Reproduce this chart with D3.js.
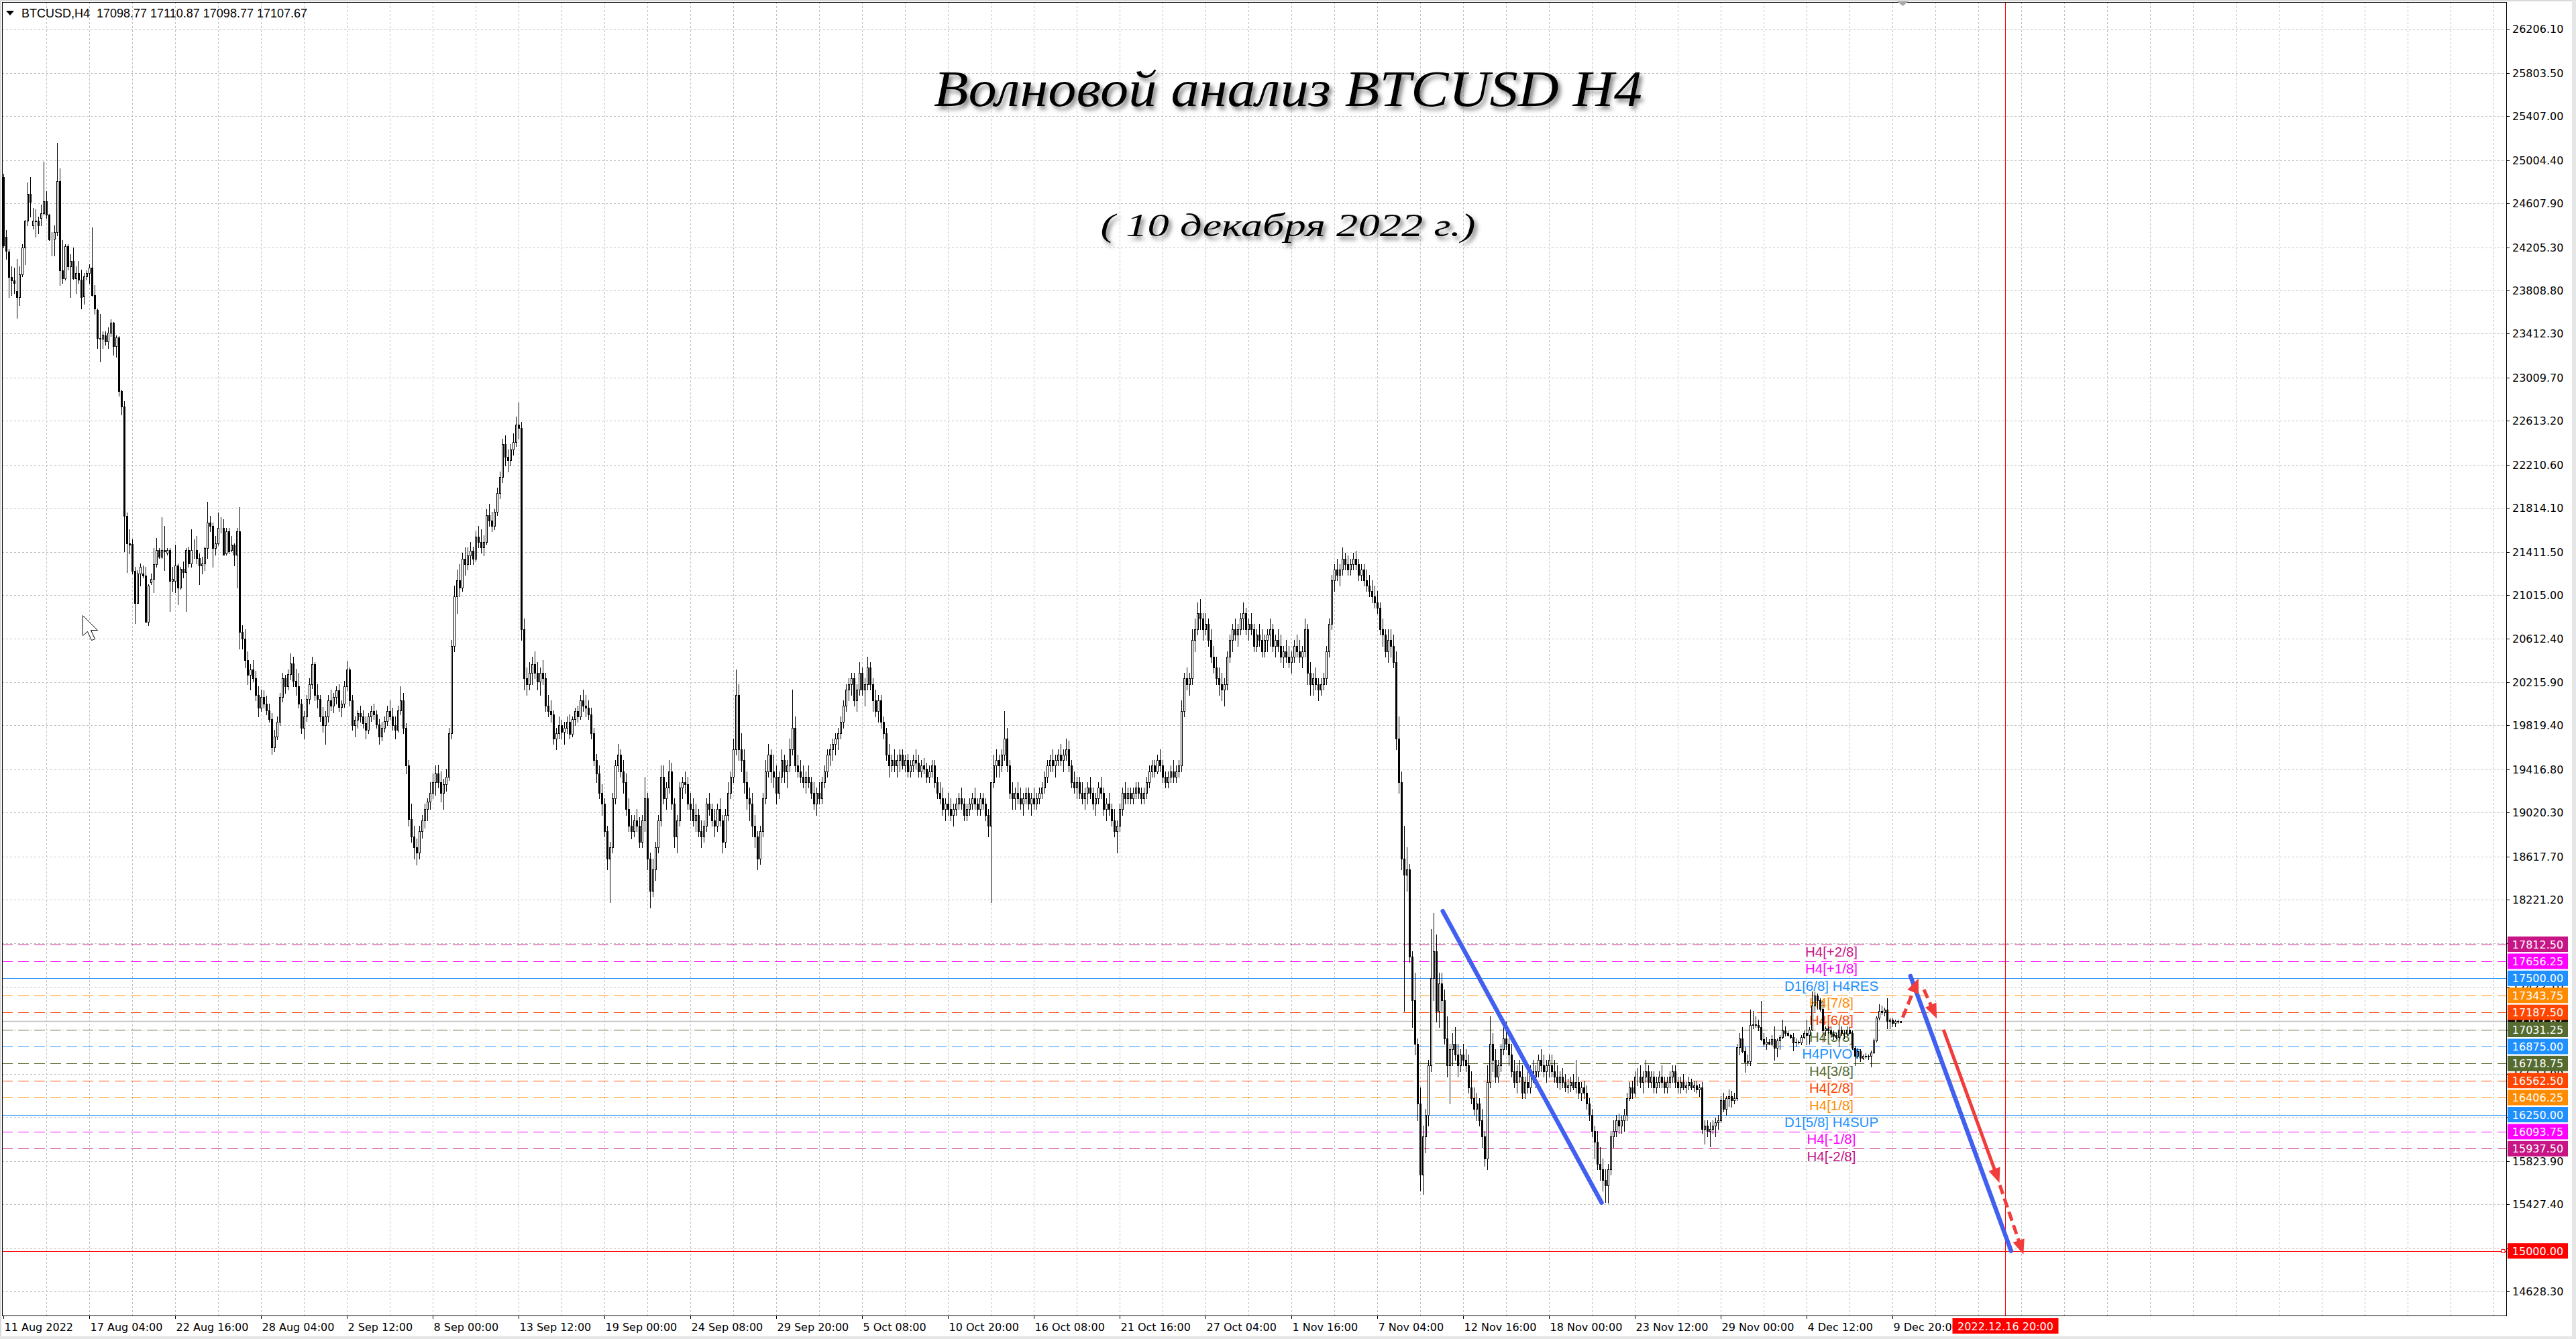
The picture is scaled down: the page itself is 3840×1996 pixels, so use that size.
<!DOCTYPE html>
<html><head><meta charset="utf-8">
<script src="https://cdn.jsdelivr.net/npm/d3@7"></script>
<style>html,body{margin:0;padding:0;background:#fff;overflow:hidden}</style>
</head><body>
<svg id="c" width="3840" height="1996" xmlns="http://www.w3.org/2000/svg"></svg>
<script>
// ---------------- DATA ----------------
const headerText = "BTCUSD,H4  17098.77 17110.87 17098.77 17107.67";
const titleText = "Волновой анализ BTCUSD H4";
const subtitleText = "( 10 декабря 2022 г.)";
const timeLabels = ["11 Aug 2022","17 Aug 04:00","22 Aug 16:00","28 Aug 04:00","2 Sep 12:00","8 Sep 00:00","13 Sep 12:00","19 Sep 00:00","24 Sep 08:00","29 Sep 20:00","5 Oct 08:00","10 Oct 20:00","16 Oct 08:00","21 Oct 16:00","27 Oct 04:00","1 Nov 16:00","7 Nov 04:00","12 Nov 16:00","18 Nov 00:00","23 Nov 12:00","29 Nov 00:00","4 Dec 12:00","9 Dec 20:00"];
const priceTicks = [26206.10,25803.50,25407.00,25004.40,24607.90,24205.30,23808.80,23412.30,23009.70,22613.20,22210.60,21814.10,21411.50,21015.00,20612.40,20215.90,19819.40,19416.80,19020.30,18617.70,18221.20,17824.70,17422.10,17025.60,16623.00,16226.50,15823.90,15427.40,15024.80,14628.30];
const opens = [
24848,24299,24164,23932,23901,23803,23750,23954,24205,24449,24697,24408,24446,24446,24471,24518,24628,24503,24283,24283,
24346,24810,23995,23922,24214,24032,24079,23922,23970,23907,23756,23938,23970,24020,23766,23631,23374,23367,23399,23342,
23421,23515,23295,23380,22888,22746,21743,21492,21480,21235,20943,21210,21210,21194,20771,21131,21163,21298,21429,21367,
21429,21404,21429,21147,21147,21288,21084,21257,21226,21429,21304,21429,21429,21351,21288,21304,21445,21680,21649,21445,
21492,21633,21633,21398,21602,21429,21476,21382,21602,20677,
20614,20420,20280,20330,20250,20100,19980,20080,20020,19960,
19880,19620,19720,19850,20080,20250,20180,20290,20390,20230,
20180,20020,19800,19900,20060,20200,20380,20100,20060,19900,
19820,19900,20050,20000,20080,20140,19990,20020,20180,20330,
20050,19820,19870,19930,19900,19840,19780,19900,19950,19920,
19830,19720,19800,19860,19950,19900,19820,19780,19960,20050,
19800,19450,18960,18800,18700,18650,18850,18950,19050,19120,
19200,19300,19380,19300,19200,19280,19350,19750,20550,21000,
21150,21080,21350,21300,21380,21420,21350,21550,21500,21450,
21500,21750,21700,21650,21780,21950,22100,22400,22280,22250,
22350,22420,22580,22550,20700,20250,20200,20300,20380,20300,
20220,20300,20250,20000,19950,19920,19700,19750,19820,19760,
19800,19850,19740,19880,19950,19900,20050,20000,19980,19920,
19750,19500,19380,19200,19100,18850,18600,18700,19150,19450,
19550,19400,19300,19050,18900,18850,18950,18900,18750,18950,
19150,18600,18300,18500,18700,18950,19350,19150,19250,19400,
19100,18800,18950,19250,19300,19280,19100,19050,18950,19000,
18850,18800,18900,19100,19050,18950,18900,19050,18950,18750,
19000,19200,19350,19600,20100,19600,19500,19300,19150,19100,
18900,18800,18600,18850,19150,19400,19550,19400,19350,19200,
19350,19500,19400,19450,19600,19800,19450,19400,19350,19300,
19350,19300,19200,19100,19200,19150,19300,19400,19550,19600,
19650,19700,19750,19850,20000,20150,20200,20250,20050,20150,
20300,20150,20200,20350,20200,20050,19950,20050,19850,19750,
19550,19450,19500,19450,19500,19550,19450,19500,19400,19450,
19500,19480,19400,19450,19420,19350,19400,19450,19300,19200,
19150,19050,19100,19050,19000,19050,19100,19150,19100,19000,
19050,19100,19150,19100,19050,19150,19100,19000,18900,19300,
19450,19500,19450,19550,19700,19450,19200,19150,19200,19150,
19100,19150,19200,19100,19150,19100,19150,19200,19250,19350,
19450,19500,19450,19500,19550,19500,19550,19600,19450,19300,
19250,19300,19200,19150,19200,19250,19200,19100,19150,19250,
19200,19050,19100,19050,18950,18850,18900,19050,19200,19150,
19200,19150,19200,19250,19200,19150,19200,19300,19400,19450,
19400,19500,19450,19350,19300,19350,19400,19350,19400,19450,
19950,20250,20200,20250,20600,20700,20850,20800,20700,20750,
20600,20450,20350,20250,20200,20150,20200,20450,20600,20700,
20650,20700,20800,20850,20700,20750,20700,20550,20650,20600,
20500,20600,20650,20700,20550,20600,20550,20450,20500,20450,
20400,20450,20550,20500,20450,20500,20700,20300,20200,20250,
20200,20150,20200,20250,20500,20750,21150,21250,21200,21250,
21350,21300,21250,21300,21350,21300,21200,21250,21150,21100,
21050,21000,20950,20900,20700,20650,20500,20600,20550,20400,
19700,19300,18600,18450,18500,17700,17300,16900,16350,15700,
16050,16250,16700,17500,17750,17200,17450,17300,16950,16700,
16850,16900,16800,16700,16800,16750,16700,16500,16400,16300,
16350,16200,16050,15850,16550,16900,16750,16600,16700,16850,
16950,16900,16800,16650,16550,16650,16600,16450,16550,16500,
16650,16600,16650,16750,16700,16650,16700,16700,16650,16600,
16550,16600,16550,16500,16520,16550,16500,16550,16450,16500,
16450,16350,16250,16100,16000,15800,15750,15650,15600,15750,
16050,16100,16200,16150,16200,16250,16400,16500,16450,16600,
16600,16550,16600,16650,16550,16600,16500,16550,16600,16550,
16500,16550,16600,16650,16550,16500,16550,16500,16520,16550,
16500,16520,16480,16500,16120,16150,16100,16120,16150,16180,
16200,16380,16300,16400,16420,16380,16400,16870,16950,16830,
16730,16740,17070,17080,17070,17050,16940,16900,16920,16900,
16940,16860,16930,16960,17020,17000,16980,16960,16910,16920,
16910,16960,17000,16980,17030,17250,17340,17300,17220,17020,
17040,17020,16990,16980,16960,17030,17000,16990,17030,17000,
16860,16790,16830,16770,16790,16780,16790,16820,16930,17140,
17200,17190,17210,17110,17120,17090,17110,17098.77];
const highs = [
24880,24362,24190,24032,24017,24095,24032,24236,24456,24801,24848,24565,24550,24487,24597,24989,24722,24510,24346,24408,
25161,24926,24268,24236,24236,24142,24205,24032,24079,24001,23970,23995,24048,24387,23860,23640,23593,23436,23436,23468,
23546,23520,23399,23389,22900,22794,21774,21617,21523,21273,21241,21304,21288,21273,21116,21210,21445,21539,21445,21727,
21649,21445,21445,21273,21476,21304,21273,21320,21445,21461,21617,21523,21555,21398,21367,21461,21868,21743,21680,21555,
21774,21727,21712,21633,21633,21555,21492,21633,21821,20739,
20700,20500,20380,20420,20320,20180,20150,20140,20090,20020,
19930,19780,19900,20120,20300,20280,20330,20480,20450,20340,
20300,20060,19950,20100,20250,20450,20400,20200,20100,19990,
19950,20100,20150,20120,20180,20200,20050,20230,20410,20350,
20100,19900,19960,20000,19960,19900,19930,20000,20020,19960,
19880,19850,19900,20000,20050,19980,19900,20000,20180,20120,
19840,19500,19100,18900,18780,18900,19000,19100,19150,19300,
19380,19450,19460,19400,19330,19420,19800,20600,21100,21250,
21300,21400,21450,21450,21500,21460,21600,21650,21620,21560,
21800,21850,21780,21800,22000,22150,22450,22480,22350,22400,
22500,22650,22780,22600,20800,20350,20400,20450,20500,20400,
20350,20420,20300,20100,20050,19960,19800,19900,19870,19850,
19900,19920,19900,19980,20000,20100,20150,20100,20050,19980,
19800,19560,19450,19280,19150,18900,18750,19200,19500,19650,
19600,19500,19380,19150,19000,19000,19050,18980,19000,19350,
19200,18650,18600,18750,19000,19450,19450,19300,19500,19480,
19150,19000,19300,19350,19400,19350,19200,19150,19100,19050,
18950,18950,19150,19200,19100,19050,19100,19150,19000,19050,
19300,19400,19700,20330,20200,19750,19600,19400,19250,19200,
19000,18850,18900,19200,19500,19650,19600,19550,19450,19400,
19600,19550,19500,19700,20150,19900,19550,19500,19450,19400,
19450,19350,19300,19250,19300,19350,19450,19600,19650,19700,
19750,19800,19900,20050,20200,20250,20300,20300,20200,20400,
20350,20250,20450,20400,20250,20150,20100,20100,19900,19800,
19650,19550,19600,19550,19600,19600,19550,19560,19500,19550,
19600,19550,19500,19520,19480,19450,19500,19500,19350,19300,
19250,19150,19200,19150,19100,19150,19200,19250,19150,19100,
19150,19200,19250,19150,19200,19200,19150,19050,18950,19550,
19600,19550,19600,19950,19800,19500,19300,19250,19300,19250,
19200,19250,19250,19200,19250,19200,19250,19300,19400,19500,
19550,19600,19550,19600,19650,19600,19700,19680,19500,19400,
19350,19350,19300,19250,19300,19350,19250,19200,19300,19350,
19250,19150,19200,19100,19050,18950,19100,19250,19300,19250,
19250,19250,19300,19300,19250,19250,19350,19450,19500,19500,
19550,19600,19500,19400,19400,19450,19500,19450,19500,20050,
20300,20350,20300,20700,20800,20950,20980,20850,20850,20800,
20700,20550,20450,20350,20300,20250,20500,20650,20750,20800,
20750,20850,20950,20900,20800,20850,20750,20700,20750,20700,
20650,20700,20800,20750,20650,20700,20650,20550,20600,20550,
20500,20600,20650,20600,20550,20800,20750,20400,20300,20350,
20250,20250,20300,20550,20800,21200,21300,21350,21300,21450,
21400,21380,21350,21400,21420,21350,21300,21300,21250,21200,
21150,21100,21050,20950,20800,20700,20700,20700,20650,20500,
19900,19400,18900,18700,18550,17750,17550,16950,16500,16150,
16300,16750,17950,18100,17900,17550,17550,17400,17150,16900,
17000,17050,16900,16850,16900,16850,16800,16650,16500,16450,
16400,16300,16100,16700,17150,17000,16850,16750,16900,17050,
17100,16950,16900,16750,16700,16750,16700,16600,16650,16700,
16750,16700,16800,16850,16800,16750,16800,16800,16750,16700,
16650,16680,16620,16580,16600,16620,16750,16600,16550,16560,
16520,16400,16300,16150,16100,15950,15850,15750,15800,16100,
16200,16250,16260,16240,16300,16450,16550,16560,16650,16680,
16700,16650,16750,16700,16650,16650,16600,16650,16700,16600,
16600,16650,16700,16700,16600,16600,16620,16550,16600,16580,
16560,16560,16530,16550,16200,16200,16180,16200,16220,16250,
16420,16450,16420,16480,16470,16450,16900,17000,17050,16870,
16800,17210,17200,17150,17120,17290,17000,16960,16940,16980,
17060,16950,16980,17120,17060,17020,16990,17000,16950,16930,
16980,17020,17120,17050,17380,17380,17360,17320,17290,17060,
17060,17060,17020,17000,17080,17060,17030,17060,17050,17020,
16880,16860,16850,16800,16810,16800,16840,16950,17150,17260,
17250,17230,17320,17140,17130,17120,17120,17110.87];
const lows = [
24205,24095,23744,23766,23781,23556,23672,23938,24048,24408,24487,24377,24299,24330,24408,24503,24471,24270,24126,24126,
24315,23860,23875,23907,24001,23744,23913,23781,23875,23640,23687,23907,23875,23760,23593,23280,23154,23280,23311,23280,
23389,23217,23201,22841,22668,21414,21226,21398,21210,20755,20943,21100,21178,20771,20739,21116,21037,21273,21351,21351,
21241,21382,20865,21053,21037,20928,21069,21178,20865,21273,21273,21351,21304,21116,21210,21241,21351,21602,21273,21382,
21476,21586,21382,21382,21398,21414,21288,21084,20520,20520,
20350,20200,20150,20220,20050,19900,19950,19980,19920,19850,
19560,19580,19690,19820,20040,20120,20150,20240,20180,20100,
19980,19750,19700,19860,20020,20160,20050,19980,19860,19760,
19650,19850,19960,19940,20020,19950,19900,19990,20140,20000,
19780,19720,19800,19850,19800,19700,19750,19860,19880,19800,
19650,19680,19760,19820,19870,19780,19700,19760,19920,19750,
19380,18900,18750,18600,18540,18600,18790,18880,18950,19050,
19150,19180,19250,19120,19050,19220,19320,19700,20500,20850,
21000,21050,21200,21250,21300,21300,21330,21450,21400,21380,
21480,21650,21600,21620,21750,21900,22050,22200,22150,22200,
22300,22380,22450,20600,20150,20100,20150,20200,20250,20150,
20100,20200,19950,19900,19850,19650,19600,19700,19700,19650,
19750,19700,19720,19820,19850,19880,19950,19900,19880,19700,
19450,19300,19150,19000,18800,18500,18200,18650,19100,19400,
19350,19200,19000,18850,18780,18800,18850,18700,18700,18850,
18500,18150,18250,18400,18650,18900,19100,19050,19200,19050,
18700,18650,18900,19150,19200,19050,18950,18900,18850,18800,
18700,18750,18850,19000,18900,18800,18850,18900,18650,18700,
18950,19150,19300,19550,19500,19400,19200,19050,18950,18800,
18700,18500,18550,18800,19100,19350,19300,19250,19100,19150,
19300,19300,19250,19400,19550,19400,19350,19300,19250,19200,
19250,19150,19050,19000,19100,19100,19250,19350,19450,19500,
19550,19600,19700,19800,19950,20050,20100,20000,19950,20100,
20100,20000,20150,20150,19950,19900,19850,19800,19700,19500,
19350,19400,19400,19350,19400,19420,19400,19350,19350,19400,
19420,19350,19350,19380,19300,19300,19350,19250,19150,19100,
19000,18950,19000,18950,18900,19000,19050,19050,18950,18950,
19000,19050,19050,19000,19000,19050,18950,18800,18200,19250,
19350,19350,19400,19500,19400,19150,19050,19050,19100,19050,
19000,19100,19050,19000,19050,19050,19100,19150,19200,19300,
19400,19400,19350,19450,19450,19400,19500,19400,19250,19200,
19150,19150,19100,19050,19100,19150,19050,19000,19100,19150,
19000,18950,19000,18900,18800,18650,18850,19000,19100,19100,
19100,19100,19150,19150,19100,19100,19150,19250,19350,19350,
19380,19400,19300,19250,19250,19300,19300,19300,19350,19400,
19900,20150,20100,20200,20500,20650,20700,20600,20650,20550,
20400,20300,20200,20100,20050,20000,20150,20400,20500,20600,
20550,20650,20700,20650,20600,20650,20500,20500,20550,20450,
20450,20500,20550,20500,20450,20500,20400,20350,20400,20350,
20300,20400,20450,20400,20350,20450,20200,20100,20100,20150,
20050,20100,20150,20200,20450,20700,21050,21150,21100,21200,
21250,21200,21200,21250,21250,21150,21150,21100,21050,21000,
20950,20900,20850,20650,20550,20450,20400,20450,20350,19600,
19200,18500,17200,18300,17650,17050,16800,16200,15550,15520,
15900,16150,16650,17300,17100,17050,17200,16900,16600,16350,
16700,16750,16600,16650,16700,16650,16450,16350,16250,16200,
16150,15950,15780,15750,16500,16650,16550,16550,16650,16800,
16850,16700,16600,16500,16450,16550,16400,16400,16450,16450,
16550,16500,16600,16650,16600,16550,16600,16600,16550,16500,
16480,16500,16460,16450,16460,16480,16450,16400,16380,16400,
16300,16200,16050,15850,15750,15650,15550,15450,15440,15700,
15950,16050,16080,16080,16100,16200,16380,16400,16420,16520,
16500,16450,16550,16500,16500,16450,16450,16500,16500,16450,
16450,16500,16550,16500,16450,16450,16480,16450,16480,16480,
16460,16450,16420,16080,15980,16050,15960,16080,16050,16120,
16180,16280,16250,16330,16320,16350,16380,16800,16820,16640,
16700,16700,17040,17050,17020,16930,16880,16850,16890,16880,
16750,16780,16850,16950,16970,16970,16950,16840,16880,16900,
16890,16950,16890,16900,17020,17200,17220,17200,16920,16980,
17000,16960,16940,16950,16880,16980,16950,16980,16990,16850,
16700,16770,16740,16760,16770,16760,16690,16810,16920,17120,
17170,17160,17040,17040,17060,17060,17090,17098.77];
const closes = [
24220,24173,23932,23901,23875,23750,23954,24205,24449,24697,24622,24446,24440,24408,24518,24628,24503,24274,24280,24346,
24810,23995,23922,24214,24032,24079,23922,23970,23907,23750,23938,23970,24020,23766,23640,23374,23367,23405,23342,23421,
23515,23295,23380,22888,22746,21743,21492,21476,21235,20943,21210,21273,21194,20771,21100,21163,21298,21429,21367,21429,
21414,21429,21147,21163,21288,21084,21257,21226,21429,21304,21429,21425,21351,21288,21304,21445,21680,21649,21445,21492,
21633,21630,21382,21602,21414,21476,21382,21602,20677,20614,
20420,20280,20330,20250,20100,19980,20080,20020,19960,19880,
19620,19720,19850,20080,20250,20180,20290,20390,20230,20180,
20020,19800,19900,20060,20200,20380,20100,20060,19900,19820,
19900,20050,20000,20080,20140,19990,20020,20180,20330,20050,
19820,19870,19930,19900,19840,19780,19900,19950,19920,19830,
19720,19800,19860,19950,19900,19820,19780,19960,20050,19800,
19450,18960,18800,18700,18650,18850,18950,19050,19120,19200,
19300,19380,19300,19200,19280,19350,19750,20550,21000,21150,
21080,21350,21300,21380,21420,21350,21550,21500,21450,21500,
21750,21700,21650,21780,21950,22100,22400,22280,22250,22350,
22420,22580,22550,20700,20250,20200,20300,20380,20300,20220,
20300,20250,20000,19950,19920,19700,19750,19820,19760,19800,
19850,19740,19880,19950,19900,20050,20000,19980,19920,19750,
19500,19380,19200,19100,18850,18600,18700,19150,19450,19550,
19400,19300,19050,18900,18850,18950,18900,18750,18950,19150,
18600,18300,18500,18700,18950,19350,19150,19250,19400,19100,
18800,18950,19250,19300,19280,19100,19050,18950,19000,18850,
18800,18900,19100,19050,18950,18900,19050,18950,18750,19000,
19200,19350,19600,20100,19600,19500,19300,19150,19100,18900,
18800,18600,18850,19150,19400,19550,19400,19350,19200,19350,
19500,19400,19450,19600,19800,19450,19400,19350,19300,19350,
19300,19200,19100,19200,19150,19300,19400,19550,19600,19650,
19700,19750,19850,20000,20150,20200,20250,20050,20150,20300,
20150,20200,20350,20200,20050,19950,20050,19850,19750,19550,
19450,19500,19450,19500,19550,19450,19500,19400,19450,19500,
19480,19400,19450,19420,19350,19400,19450,19300,19200,19150,
19050,19100,19050,19000,19050,19100,19150,19100,19000,19050,
19100,19150,19100,19050,19150,19100,19000,18900,19300,19450,
19500,19450,19550,19700,19450,19200,19150,19200,19150,19100,
19150,19200,19100,19150,19100,19150,19200,19250,19350,19450,
19500,19450,19500,19550,19500,19550,19600,19450,19300,19250,
19300,19200,19150,19200,19250,19200,19100,19150,19250,19200,
19050,19100,19050,18950,18850,18900,19050,19200,19150,19200,
19150,19200,19250,19200,19150,19200,19300,19400,19450,19400,
19500,19450,19350,19300,19350,19400,19350,19400,19450,19950,
20250,20200,20250,20600,20700,20850,20800,20700,20750,20600,
20450,20350,20250,20200,20150,20200,20450,20600,20700,20650,
20700,20800,20850,20700,20750,20700,20550,20650,20600,20500,
20600,20650,20700,20550,20600,20550,20450,20500,20450,20400,
20450,20550,20500,20450,20500,20700,20300,20200,20250,20200,
20150,20200,20250,20500,20750,21150,21250,21200,21250,21350,
21300,21250,21300,21350,21300,21200,21250,21150,21100,21050,
21000,20950,20900,20700,20650,20500,20600,20550,20400,19700,
19300,18600,18450,18500,17700,17300,16900,16350,15700,16050,
16250,16700,17500,17750,17200,17450,17300,16950,16700,16850,
16900,16800,16700,16800,16750,16700,16500,16400,16300,16350,
16200,16050,15850,16550,16900,16750,16600,16700,16850,16950,
16900,16800,16650,16550,16650,16600,16450,16550,16500,16650,
16600,16650,16750,16700,16650,16700,16750,16650,16600,16550,
16600,16550,16500,16520,16550,16500,16550,16450,16500,16450,
16350,16250,16100,16000,15800,15750,15650,15600,15750,16050,
16100,16200,16150,16200,16250,16400,16500,16450,16600,16600,
16550,16600,16650,16550,16600,16500,16550,16600,16550,16500,
16550,16600,16650,16550,16500,16550,16500,16520,16550,16500,
16520,16480,16500,16120,16150,16100,16120,16150,16180,16200,
16380,16300,16400,16420,16380,16400,16870,16950,16830,16730,
16740,17070,17080,17070,17050,16940,16900,16920,16900,16940,
16860,16930,16960,17020,17000,16980,16960,16910,16920,16910,
16960,17000,16980,17030,17250,17340,17300,17220,17020,17040,
17020,16990,16980,16960,17030,17000,16990,17030,17000,16860,
16790,16830,16770,16790,16780,16790,16820,16930,17140,17200,
17190,17210,17110,17120,17090,17110,17100,17107.67];
const levelPrices = [17812.50,17656.25,17500.00,17343.75,17187.50,17031.25,16875.00,16718.75,16562.50,16406.25,16250.00,16093.75,15937.50];
const levelNames  = ["H4[+2/8]","H4[+1/8]","D1[6/8] H4RES","H4[7/8]","H4[6/8]","H4[5/8]","H4PIVOT","H4[3/8]","H4[2/8]","H4[1/8]","D1[5/8] H4SUP","H4[-1/8]","H4[-2/8]"];
const levelColors = ["#C71585","#FF00FF","#1E90FF","#FF8C00","#FF4500","#556B2F","#1E90FF","#556B2F","#FF4500","#FF8C00","#1E90FF","#FF00FF","#C71585"];
const levelSolid  = [false,false,true,false,false,false,false,false,false,false,true,false,false];
const bidPrice = 17107.67;
const targetPrice = 15000.00;
const targetBar = 746;
const targetLabel = "2022.12.16 20:00";
const blueLines = [[536.3,18116,595.5,15443],[710.6,17521,748.1,15000]];
const redArrows = [[707.7,17141,713.6,17500,1],[715.6,17398,720.4,17131,1],[722.9,17029,743.75,15624,0],[743.9,15603,752.7,14968,1]];

// ---------------- LAYOUT ----------------
const W=3840,H=1996;
const L=3, R=3736, T=3, B=1961;
const svg=d3.select("#c");
const x=d3.scaleLinear().domain([0,1]).range([5.5,9.5]);
const y=d3.scaleLinear().domain([14628.3,26206.1]).range([1925.1,43.3]);
const cy=v=>Math.round(y(v))+0.5;

const defs=svg.append("defs");
defs.append("clipPath").attr("id","clip").append("rect").attr("x",L).attr("y",T).attr("width",R-L).attr("height",B-T);
const f=defs.append("filter").attr("id","sh").attr("x","-10%").attr("y","-30%").attr("width","120%").attr("height","160%");
f.append("feDropShadow").attr("dx",4).attr("dy",5).attr("stdDeviation",3).attr("flood-color","#555").attr("flood-opacity",0.75);

svg.append("rect").attr("width",W).attr("height",H).attr("fill","#fff");
svg.append("rect").attr("x",0).attr("y",0).attr("width",W).attr("height",2).attr("fill","#d9d9d9");
svg.append("rect").attr("x",0).attr("y",0).attr("width",2).attr("height",H).attr("fill","#d9d9d9");
svg.append("rect").attr("x",3834).attr("y",0).attr("width",6).attr("height",H).attr("fill","#e6e6e6");
svg.append("rect").attr("x",0).attr("y",1992).attr("width",W).attr("height",4).attr("fill","#e6e6e6");

const g=svg.append("g").attr("clip-path","url(#clip)");
const vg=[]; for(let k=1;5.5+64*k<R;k++) vg.push(k*16);
g.selectAll(".vg").data(vg).enter().append("line")
 .attr("x1",d=>x(d)).attr("x2",d=>x(d)).attr("y1",T).attr("y2",B)
 .attr("stroke","#c0c0c0").attr("stroke-dasharray","3,3").attr("stroke-width",1);
g.selectAll(".hg").data(priceTicks).enter().append("line")
 .attr("x1",L).attr("x2",R).attr("y1",d=>cy(d)).attr("y2",d=>cy(d))
 .attr("stroke","#c0c0c0").attr("stroke-dasharray","3,3").attr("stroke-width",1);

g.selectAll(".lv").data(levelPrices).enter().append("line")
 .attr("x1",L).attr("x2",R).attr("y1",d=>cy(d)).attr("y2",d=>cy(d))
 .attr("stroke",(d,i)=>levelColors[i]).attr("stroke-width",1)
 .attr("stroke-dasharray",(d,i)=>levelSolid[i]?null:"16,8");
g.append("line").attr("x1",L).attr("x2",R).attr("y1",cy(bidPrice)).attr("y2",cy(bidPrice)).attr("stroke","#c0c0c0").attr("stroke-width",1.5);
g.append("line").attr("x1",L).attr("x2",R).attr("y1",cy(targetPrice)).attr("y2",cy(targetPrice)).attr("stroke","#ff0000").attr("stroke-width",1);
g.append("line").attr("x1",x(targetBar)).attr("x2",x(targetBar)).attr("y1",T).attr("y2",B).attr("stroke","#ff0000").attr("stroke-width",1);
g.append("rect").attr("x",R-7).attr("y",cy(targetPrice)-3).attr("width",5).attr("height",5).attr("fill","#fff").attr("stroke","#ff0000");

g.selectAll(".lt").data(levelPrices).enter().append("text")
 .attr("x",2730).attr("y",d=>y(d)+18.5).attr("text-anchor","middle")
 .attr("font-family","'Liberation Sans',Arial,sans-serif").attr("font-size",20.5)
 .attr("fill",(d,i)=>levelColors[i]).text((d,i)=>levelNames[i]);

const bars=d3.range(opens.length).map(i=>({i,o:opens[i],h:highs[i],l:lows[i],c:closes[i]}));
const cg=g.append("g");
cg.selectAll(".wk").data(bars).enter().append("line")
 .attr("x1",d=>x(d.i)).attr("x2",d=>x(d.i)).attr("y1",d=>Math.round(y(d.h))).attr("y2",d=>Math.round(y(d.l))+1)
 .attr("stroke","#000").attr("stroke-width",1);
cg.selectAll(".bd").data(bars).enter().append("rect")
 .attr("x",d=>x(d.i)-1).attr("width",2)
 .attr("y",d=>Math.round(y(Math.max(d.o,d.c)))+0.5)
 .attr("height",d=>Math.max(0,Math.round(y(Math.min(d.o,d.c)))-Math.round(y(Math.max(d.o,d.c)))))
 .attr("fill",d=>d.c>=d.o?"#fff":"#000").attr("stroke","#000").attr("stroke-width",1);

g.selectAll(".bl").data(blueLines).enter().append("line")
 .attr("x1",d=>x(d[0])).attr("y1",d=>y(d[1])).attr("x2",d=>x(d[2])).attr("y2",d=>y(d[3]))
 .attr("stroke","#4160f0").attr("stroke-width",6.5).attr("stroke-linecap","round");
redArrows.forEach(a=>{
  const x0=x(a[0]),y0=y(a[1]),x1=x(a[2]),y1=y(a[3]);
  const dx=x1-x0,dy=y1-y0,len=Math.hypot(dx,dy),ux=dx/len,uy=dy/len;
  const hl=22,hw=9;
  const bx=x1-ux*hl,by=y1-uy*hl;
  g.append("line").attr("x1",x0).attr("y1",y0).attr("x2",bx+ux*2).attr("y2",by+uy*2)
   .attr("stroke","#f23c3c").attr("stroke-width",5)
   .attr("stroke-dasharray",a[4]?"14,7":null);
  g.append("path").attr("d",`M${x1},${y1}L${bx-uy*hw},${by+ux*hw}L${bx+uy*hw},${by-ux*hw}Z`).attr("fill","#f23c3c");
});

svg.append("rect").attr("x",L+0.5).attr("y",T+0.5).attr("width",R-L).attr("height",B-T).attr("fill","none").attr("stroke","#000").attr("stroke-width",1);

const axf="'DejaVu Sans',Verdana,sans-serif";
svg.selectAll(".rt").data(priceTicks).enter().append("line")
 .attr("x1",R).attr("x2",R+5).attr("y1",d=>cy(d)).attr("y2",d=>cy(d)).attr("stroke","#000");
svg.selectAll(".rl").data(priceTicks).enter().append("text")
 .attr("x",3745).attr("y",d=>y(d)+6).attr("font-family",axf).attr("font-size",16).attr("fill","#000")
 .text(d=>d.toFixed(2));
function box(p,col){
  svg.append("rect").attr("x",3738).attr("y",y(p)-11.5).attr("width",90).attr("height",23).attr("fill",col);
  svg.append("text").attr("x",3783).attr("y",y(p)+6).attr("text-anchor","middle").attr("font-family",axf).attr("font-size",16).attr("fill","#fff").text(p.toFixed(2));
}
box(bidPrice,"#000");
levelPrices.forEach((p,i)=>box(p,levelColors[i]));
box(targetPrice,"#ff0000");

svg.selectAll(".bt").data(timeLabels).enter().append("line")
 .attr("x1",(d,i)=>x(i*32)).attr("x2",(d,i)=>x(i*32)).attr("y1",B).attr("y2",B+5).attr("stroke","#000");
svg.selectAll(".bl2").data(timeLabels).enter().append("text")
 .attr("x",(d,i)=>x(i*32)+1).attr("y",1984).attr("font-family",axf).attr("font-size",16).attr("fill","#000").text(d=>d);
svg.append("rect").attr("x",x(targetBar)-79).attr("y",1965).attr("width",158).attr("height",23).attr("fill","#ff0000");
svg.append("text").attr("x",x(targetBar)).attr("y",1983).attr("text-anchor","middle").attr("font-family",axf).attr("font-size",16).attr("fill","#fff").text(targetLabel);

svg.append("path").attr("d","M2828,2L2845,2L2836.5,9Z").attr("fill","#a8a8a8");

svg.append("path").attr("d","M9,16L21,16L15,23Z").attr("fill","#000");
svg.append("text").attr("x",32).attr("y",26).attr("font-family","'Liberation Sans',Arial,sans-serif").attr("font-size",18).attr("fill","#000").attr("xml:space","preserve").style("white-space","pre").text(headerText);

svg.append("text").attr("x",1920).attr("y",158).attr("text-anchor","middle")
 .attr("font-family","'Liberation Serif',serif").attr("font-style","italic").attr("font-size",76)
 .attr("textLength",1056).attr("lengthAdjust","spacingAndGlyphs").attr("filter","url(#sh)").text(titleText);
svg.append("text").attr("x",1920).attr("y",352).attr("text-anchor","middle")
 .attr("font-family","'Liberation Serif',serif").attr("font-style","italic").attr("font-size",48)
 .attr("textLength",559).attr("lengthAdjust","spacingAndGlyphs").attr("filter","url(#sh)").text(subtitleText);

svg.append("path").attr("d","M123.5,917.5L123.5,947.5L130.5,941.5L136.5,954.5L141.5,952.5L135.5,939.5L145.5,939.5Z")
 .attr("fill","#fff").attr("stroke","#000").attr("stroke-width",1);
</script>
</body></html>
